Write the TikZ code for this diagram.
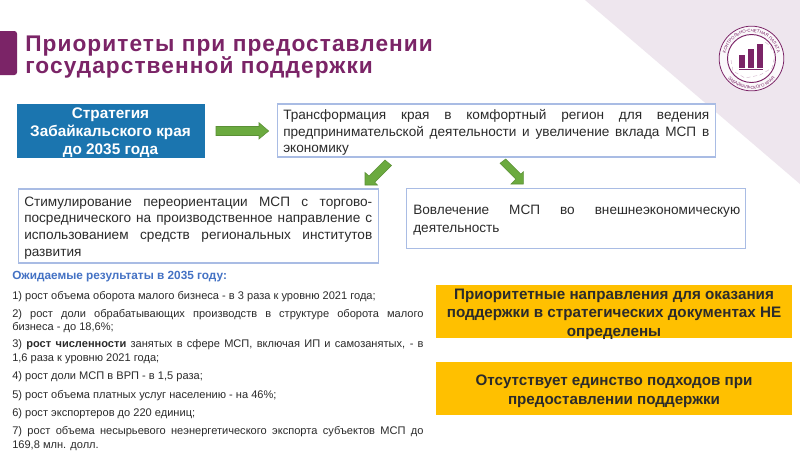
\documentclass[tikz,border=0pt]{standalone}
\usepackage{fontspec}
\setmainfont{Liberation Sans}
\usetikzlibrary{decorations.text}
\definecolor{plum}{HTML}{7B2467}
\definecolor{tint}{HTML}{EEE6EE}
\definecolor{stratblue}{HTML}{1B75AF}
\definecolor{boxline}{HTML}{A9BCE4}
\definecolor{arrowgreen}{HTML}{6BAA3F}
\definecolor{headblue}{HTML}{4472C4}
\definecolor{gold}{HTML}{FFC000}
\definecolor{ink}{HTML}{2B2B2B}
\tikzset{
 x=0.75pt,y=-0.75pt,
 bluebox/.style={draw=boxline,line width=0.8pt,fill=white,inner sep=0pt,outer sep=0pt,anchor=north west},
 goldbox/.style={fill=gold,inner sep=0pt,anchor=center,minimum width=267pt,minimum height=40pt},
 goldtext/.style={inner sep=0pt,anchor=center,align=center,font=\fontsize{11.4}{13.9}\selectfont\bfseries,text=ink},
 bodytext/.style={anchor=north west,inner sep=0pt,align=justify,text=ink},
 greenarrow/.style={fill=arrowgreen,draw=arrowgreen!85!black,line width=0.4pt,line join=miter},
 item/.style={bodytext,text width=308.5pt,font=\fontsize{8.3}{10.3}\selectfont},
 ringlabel/.style={decorate,decoration={text along path,text align=center,text={|\fontsize{3.3}{4}\selectfont\color{plum}|#1}}},
}
\begin{document}
\begin{tikzpicture}
\useasboundingbox (0,0) rectangle (800,451);
\fill[white] (0,0) rectangle (800,451);
\fill[tint] (585,0) -- (800,0) -- (800,184) -- cycle;
% accent tab
\fill[plum,rounded corners=2pt] (-6,31) rectangle (17,75);
% title
\node[anchor=north west,inner sep=0pt,align=left,text=plum,font=\fontsize{17}{16.5}\selectfont\bfseries] (title) at (25,35.5) {\addfontfeature{LetterSpace=4.7}Приоритеты при предоставлении\\\addfontfeature{LetterSpace=4.7}государственной поддержки};
% logo
\node[circle,draw=plum,line width=0.6pt,minimum size=48.5pt,inner sep=0pt,fill=white!70!tint] (logoouter) at (751.5,58.5) {};
\node[circle,draw=plum,line width=0.7pt,minimum size=36pt,inner sep=0pt,fill=white] (logoinner) at (751.5,58.5) {};
\draw[plum!35,line width=0.3pt,densely dashed] (731,60) -- (733,71) -- (745,78) -- (760,75) -- (772,68) -- (775,55) -- (770,46) -- (764,41);
\fill[plum] (739.3,55) rectangle (745.3,67.7);
\fill[plum] (748.3,49.3) rectangle (754.3,67.7);
\fill[plum] (756.7,44) rectangle (762.7,67.7);
\fill[plum] (739,68.6) rectangle (763,69.6);
\path[ringlabel={КОНТРОЛЬНО-СЧЕТНАЯ ПАЛАТА}] (751.5,58.5) ++(-200:26.3) arc[start angle=-200,end angle=20,radius=26.3];
\path[ringlabel={ЗАБАЙКАЛЬСКОГО КРАЯ}] (751.5,58.5) ++(-215:30.6) arc[start angle=-215,end angle=-325,radius=30.6];
% strategy box
\node[fill=stratblue,inner sep=0pt,anchor=center,minimum width=141pt,minimum height=40.5pt] (strategy) at (110.5,130.5) {};
\node[inner sep=0pt,anchor=center,align=center,text=white,font=\fontsize{11.5}{13.5}\selectfont\bfseries] (strategytext) at (110.5,133) {Стратегия\\Забайкальского края\\до 2035 года};
% transformation
\node[bluebox,minimum width=328.5pt,minimum height=39.75pt] (trans) at (277.5,104) {};
\node[bodytext,text width=319.5pt,font=\fontsize{10.2}{12.4}\selectfont] (transtext) at (283,109.5) {Трансформация края в комфортный регион для ведения\linebreak предпринимательской деятельности и увеличение вклада МСП в\linebreak экономику};
% arrows
\draw[greenarrow] (216,126.5) -- (259,126.5) -- (259,122.7) -- (268.7,131) -- (259,139) -- (259,135.5) -- (216,135.5) -- cycle;
\draw[greenarrow] (385,160) -- (391.5,165.5) -- (374.75,182.25) -- (377.5,185) -- (365,185) -- (365,172.5) -- (369,176) -- cycle;
\draw[greenarrow] (505.7,159) -- (520.85,174.15) -- (523.3,171.7) -- (523.3,184) -- (511,184) -- (515.85,179.15) -- (500,163.3) -- cycle;
% left box
\node[bluebox,minimum width=270pt,minimum height=55.5pt] (stim) at (18.5,189) {};
\node[bodytext,text width=261pt,font=\fontsize{10.2}{12.5}\selectfont] (stimtext) at (24,196.5) {Стимулирование переориентации МСП с торгово-\linebreak посреднического на производственное направление с\linebreak использованием средств региональных институтов\linebreak развития};
% right box
\node[bluebox,minimum width=254.25pt,minimum height=45pt] (inv) at (406.5,188.5) {};
\node[bodytext,text width=245.25pt,font=\fontsize{10.2}{13.5}\selectfont] (invtext) at (413,205) {Вовлечение МСП во внешнеэкономическую\linebreak деятельность};
% results
\node[anchor=north west,inner sep=0pt,text=headblue,font=\fontsize{8.85}{10}\selectfont\bfseries] (head) at (12,270.5) {Ожидаемые результаты в 2035 году:};
\node[item] (i1) at (12,291) {1) рост объема оборота малого бизнеса - в 3 раза к уровню 2021 года;};
\node[item] (i2) at (12,308.7) {2) рост доли обрабатывающих производств в структуре оборота малого\linebreak бизнеса - до 18,6\%;};
\node[item] (i3) at (12,339.3) {3) \textbf{рост численности} занятых в сфере МСП, включая ИП и самозанятых, - в\linebreak 1,6 раза к уровню 2021 года;};
\node[item] (i4) at (12,371.7) {4) рост доли МСП в ВРП - в 1,5 раза;};
\node[item] (i5) at (12,390.3) {5) рост объема платных услуг населению - на 46\%;};
\node[item] (i6) at (12,408.3) {6) рост экспортеров до 220 единиц;};
\node[item] (i7) at (12,426) {7) рост объема несырьевого неэнергетического экспорта субъектов МСП до\linebreak 169,8 млн. долл.};
% gold boxes
\node[goldbox] (g1) at (614,311.5) {};
\node[goldtext] (g1text) at (614,314) {Приоритетные направления для оказания\\поддержки в стратегических документах НЕ\\определены};
\node[goldbox] (g2) at (614,388.5) {};
\node[goldtext] (g2text) at (614,391.5) {Отсутствует единство подходов при\\предоставлении поддержки};
\end{tikzpicture}
\end{document}
